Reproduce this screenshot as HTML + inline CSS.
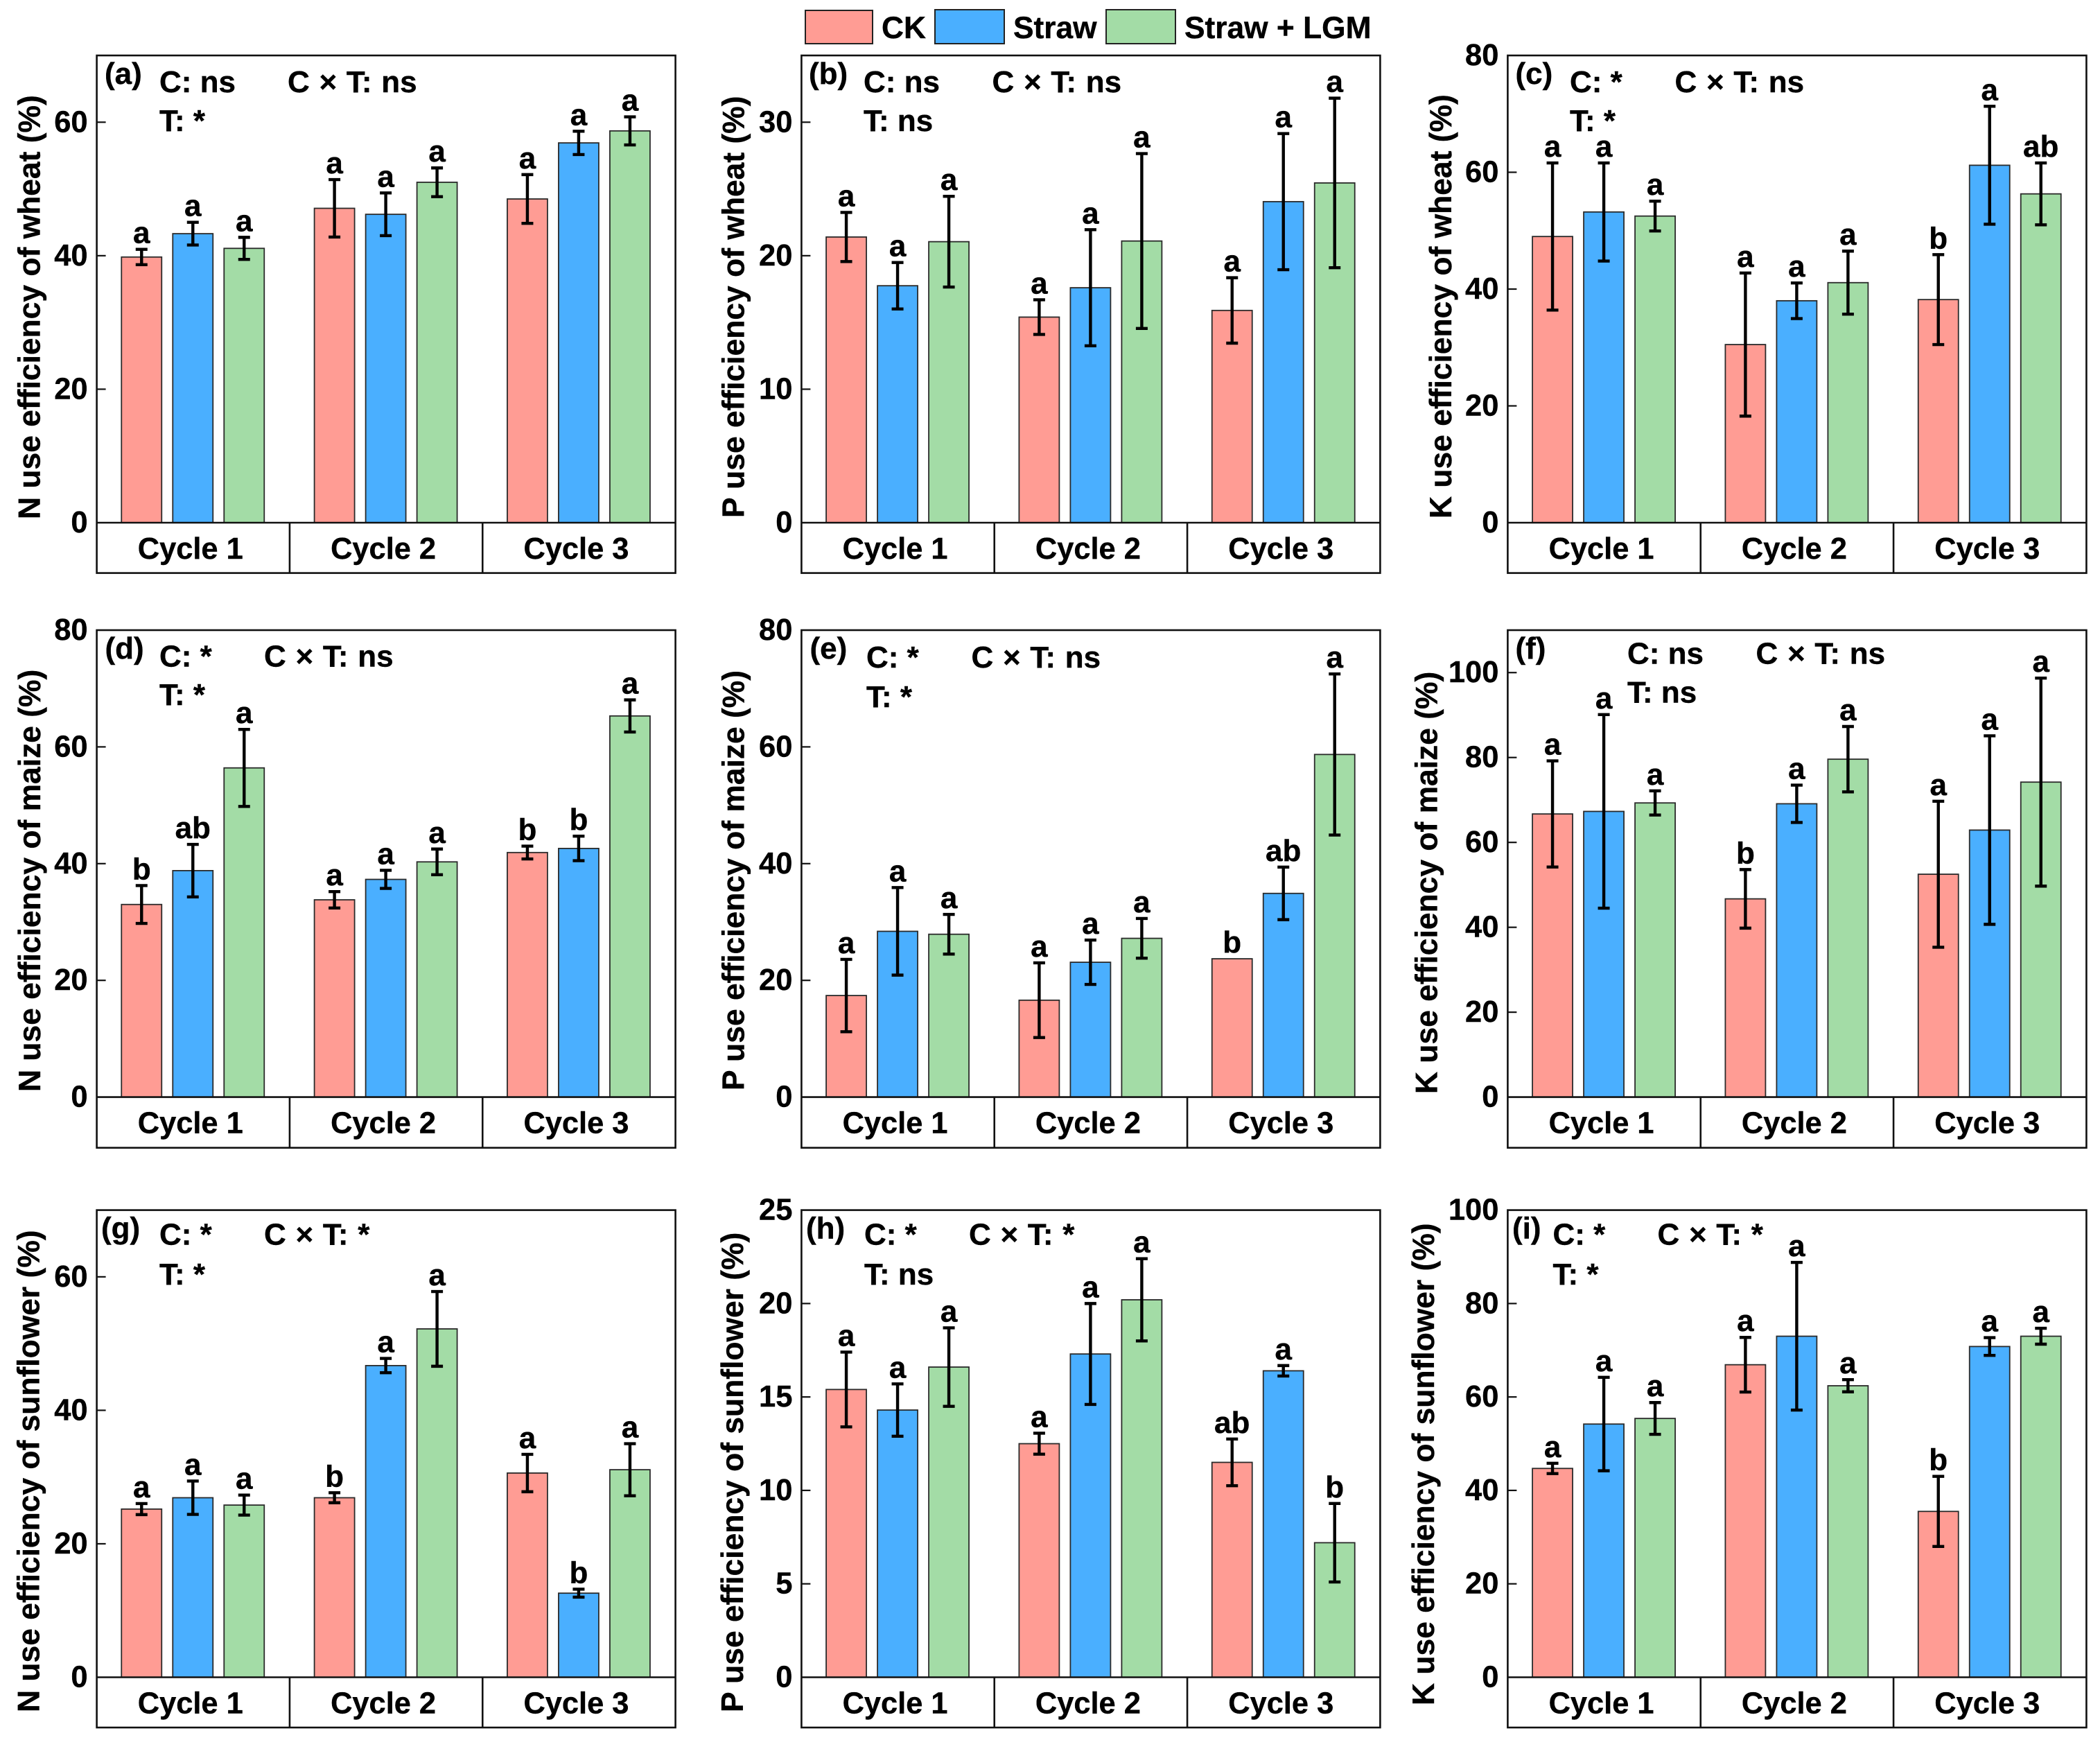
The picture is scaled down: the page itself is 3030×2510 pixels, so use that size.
<!DOCTYPE html>
<html lang="en">
<head>
<meta charset="utf-8">
<title>Nutrient use efficiency by crop, cycle and treatment</title>
<style>
html,body{margin:0;padding:0;background:#fff;}
svg{display:block;}
text{font-family:"Liberation Sans",Arial,sans-serif;font-weight:bold;fill:#000;stroke:#000;stroke-width:0.4px;}
</style>
</head>
<body>
<svg id="chart" xmlns="http://www.w3.org/2000/svg" width="3030" height="2510" viewBox="0 0 3030 2510">
  <rect x="0" y="0" width="3030" height="2510" fill="#ffffff"/>
  <g>
    <rect x="1162" y="15" width="97" height="48" fill="#FF9C94" stroke="#222" stroke-width="2"/>
    <text x="1272" y="55" font-size="44.3">CK</text>
    <rect x="1349" y="14" width="100" height="49" fill="#4AAFFF" stroke="#222" stroke-width="2"/>
    <text x="1462" y="55" font-size="44.3">Straw</text>
    <rect x="1596" y="14" width="100" height="49" fill="#A3DCA6" stroke="#222" stroke-width="2"/>
    <text x="1709" y="55" font-size="44.3">Straw + LGM</text>
  </g>
</svg>
<script>
// ---------- data: values by cycle then treatment (CK, Straw, Straw + LGM) ----------
const cycles = ['Cycle 1', 'Cycle 2', 'Cycle 3'];
const treatments = ['ck', 'straw', 'straw-lgm'];

const aValues = [39.8, 43.3, 41.1, 47.1, 46.2, 51.0, 48.5, 56.9, 58.7];
const aErrors = [1.15, 1.7, 1.65, 4.3, 3.2, 2.15, 3.65, 1.75, 2.1];
const aLetters = ['a','a','a','a','a','a','a','a','a'];
const aTicks = [0, 20, 40, 60];

const bValues = [21.4, 17.75, 21.05, 15.4, 17.6, 21.1, 15.9, 24.05, 25.45];
const bErrors = [1.84, 1.74, 3.4, 1.3, 4.35, 6.55, 2.45, 5.1, 6.35];
const bLetters = ['a','a','a','a','a','a','a','a','a'];
const bTicks = [0, 10, 20, 30];

const cValues = [49.0, 53.2, 52.5, 30.5, 38.0, 41.1, 38.2, 61.2, 56.3];
const cErrors = [12.6, 8.4, 2.55, 12.25, 3.05, 5.4, 7.7, 10.1, 5.3];
const cLetters = ['a','a','a','a','a','a','b','a','ab'];
const cTicks = [0, 20, 40, 60, 80];

const dValues = [33.0, 38.8, 56.4, 33.8, 37.3, 40.3, 41.9, 42.6, 65.3];
const dErrors = [3.24, 4.5, 6.6, 1.4, 1.55, 2.2, 1.1, 2.1, 2.75];
const dLetters = ['b','ab','a','a','a','a','b','b','a'];
const dTicks = [0, 20, 40, 60, 80];

const eValues = [17.4, 28.4, 27.9, 16.6, 23.1, 27.2, 23.7, 34.9, 58.7];
const eErrors = [6.2, 7.5, 3.4, 6.4, 3.8, 3.4, 0, 4.5, 13.8];
const eLetters = ['a','a','a','a','a','a','b','ab','a'];
const eTicks = [0, 20, 40, 60, 80];

const fValues = [66.7, 67.3, 69.3, 46.7, 69.1, 79.6, 52.5, 62.9, 74.2];
const fErrors = [12.5, 22.8, 2.85, 6.9, 4.4, 7.7, 17.2, 22.2, 24.5];
const fLetters = ['a','a','a','b','a','a','a','a','a'];
const fTicks = [0, 20, 40, 60, 80, 100];

const gValues = [25.2, 26.9, 25.8, 26.9, 46.7, 52.2, 30.6, 12.6, 31.1];
const gErrors = [0.83, 2.5, 1.5, 0.75, 1.07, 5.6, 2.8, 0.6, 3.9];
const gLetters = ['a','a','a','b','a','a','a','b','a'];
const gTicks = [0, 20, 40, 60];

const hValues = [15.4, 14.3, 16.6, 12.5, 17.3, 20.2, 11.5, 16.4, 7.2];
const hErrors = [2.0, 1.4, 2.1, 0.56, 2.7, 2.2, 1.25, 0.28, 2.1];
const hLetters = ['a','a','a','a','a','a','ab','a','b'];
const hTicks = [0, 5, 10, 15, 20, 25];

const iValues = [44.7, 54.2, 55.4, 66.9, 73.0, 62.4, 35.5, 70.8, 73.0];
const iErrors = [1.1, 10.0, 3.4, 5.85, 15.8, 1.3, 7.5, 1.9, 1.7];
const iLetters = ['a','a','a','a','a','a','b','a','a'];
const iTicks = [0, 20, 40, 60, 80, 100];

// ---------- layout ----------
const colLeft = [139.6, 1156.4, 2175.4];
const rowTop = [80, 909, 1745.6];
const rowAxis = [754, 1582.6, 2419.5];
const rowBottom = [826.6, 1655.7, 2492];
const plotWidth = 835;
const barWidth = 59;
const barStep = 74;
const titleFontSize = 44.4;
const fills = ['#FF9C94', '#4AAFFF', '#A3DCA6'];

const panels = [
  {id:'a', col:0, row:0, yMax:70,  values:aValues, errors:aErrors, letters:aLetters, ticks:aTicks,
   title:'N use efficiency of wheat (%)', titleX:57.5, titleY:749,
   s1:'C: ns', s2:'C × T: ns', s3:'T: *', labelX:151, s1X:230, s2X:415, y1:133, y2:189},
  {id:'b', col:1, row:0, yMax:35,  values:bValues, errors:bErrors, letters:bLetters, ticks:bTicks,
   title:'P use efficiency of wheat (%)', titleX:1073.6, titleY:747,
   s1:'C: ns', s2:'C × T: ns', s3:'T: ns', labelX:1167, s1X:1246, s2X:1431.5, y1:133, y2:189},
  {id:'c', col:2, row:0, yMax:80,  values:cValues, errors:cErrors, letters:cLetters, ticks:cTicks,
   title:'K use efficiency of wheat (%)', titleX:2094, titleY:748,
   s1:'C: *', s2:'C × T: ns', s3:'T: *', labelX:2186.5, s1X:2265, s2X:2416.5, y1:133, y2:189},
  {id:'d', col:0, row:1, yMax:80,  values:dValues, errors:dErrors, letters:dLetters, ticks:dTicks,
   title:'N use efficiency of maize (%)', titleX:57.8, titleY:1575,
   s1:'C: *', s2:'C × T: ns', s3:'T: *', labelX:151.5, s1X:230, s2X:381, y1:961.6, y2:1017},
  {id:'e', col:1, row:1, yMax:80,  values:eValues, errors:eErrors, letters:eLetters, ticks:eTicks,
   title:'P use efficiency of maize (%)', titleX:1073.6, titleY:1573,
   s1:'C: *', s2:'C × T: ns', s3:'T: *', labelX:1168.5, s1X:1250, s2X:1401.5, y1:963, y2:1020},
  {id:'f', col:2, row:1, yMax:110, values:fValues, errors:fErrors, letters:fLetters, ticks:fTicks,
   title:'K use efficiency of maize (%)', titleX:2073.6, titleY:1578,
   s1:'C: ns', s2:'C × T: ns', s3:'T: ns', labelX:2186.5, s1X:2348, s2X:2533.5, y1:957.4, y2:1013.5},
  {id:'g', col:0, row:2, yMax:70,  values:gValues, errors:gErrors, letters:gLetters, ticks:gTicks,
   title:'N use efficiency of sunflower (%)', titleX:56.5, titleY:2470,
   s1:'C: *', s2:'C × T: *', s3:'T: *', labelX:146, s1X:230, s2X:381, y1:1795.4, y2:1853},
  {id:'h', col:1, row:2, yMax:25,  values:hValues, errors:hErrors, letters:hLetters, ticks:hTicks,
   title:'P use efficiency of sunflower (%)', titleX:1072, titleY:2470,
   s1:'C: *', s2:'C × T: *', s3:'T: ns', labelX:1163, s1X:1247, s2X:1398, y1:1795.4, y2:1853},
  {id:'i', col:2, row:2, yMax:100, values:iValues, errors:iErrors, letters:iLetters, ticks:iTicks,
   title:'K use efficiency of sunflower (%)', titleX:2069, titleY:2460,
   s1:'C: *', s2:'C × T: *', s3:'T: *', labelX:2182, s1X:2240.5, s2X:2391.5, y1:1795.4, y2:1853}
];

const svg = document.getElementById('chart');
const NS = 'http://www.w3.org/2000/svg';

function make(parent, tag, attrs, txt) {
  const el = document.createElementNS(NS, tag);
  for (const k in attrs) el.setAttribute(k, attrs[k]);
  if (txt !== undefined) el.textContent = txt;
  parent.appendChild(el);
  return el;
}

function drawPanel(p) {
  const left = colLeft[p.col];
  const right = left + plotWidth;
  const top = rowTop[p.row];
  const axisY = rowAxis[p.row];
  const bottom = rowBottom[p.row];
  const catW = plotWidth / cycles.length;
  const yScale = v => axisY - (v / p.yMax) * (axisY - top);
  const xScale = (c, t) => left + catW * (c + 0.5) + (t - 1) * barStep;

  const g = make(svg, 'g', {});
  
  

  // bars
  p.values.forEach((v, i) => {
    const c = Math.floor(i / 3);
    const t = i % 3;
    const cx = xScale(c, t) - 0.5;
    const bar = make(g, 'rect', {
      x: cx - barWidth / 2 + 0.5, y: yScale(v),
      width: barWidth - 1, height: axisY - yScale(v),
      fill: fills[t], stroke: '#2a2a2a', 'stroke-width': 1.8
    });
    
    
  });

  // error bars and significance letters
  p.values.forEach((v, i) => {
    const c = Math.floor(i / 3);
    const t = i % 3;
    const cx = xScale(c, t) - 0.5;
    const e = p.errors[i];
    const hi = yScale(v + e);
    const lo = yScale(v - e);
    if (e > 0) {
      const eg = make(g, 'g', {stroke: '#000', fill: 'none'});
      
      
      make(eg, 'line', {x1: cx, x2: cx, y1: hi, y2: lo, 'stroke-width': 4.4});
      make(eg, 'line', {x1: cx - 8.5, x2: cx + 8.5, y1: hi, y2: hi, 'stroke-width': 4.4});
      make(eg, 'line', {x1: cx - 8.5, x2: cx + 8.5, y1: lo, y2: lo, 'stroke-width': 4.4});
    }
    const letter = make(g, 'text', {x: cx, y: hi - 9, 'font-size': 44, 'text-anchor': 'middle'}, p.letters[i]);
    
    
  });

  // frame
  const frame = make(g, 'rect', {x: left, y: top, width: plotWidth, height: bottom - top, fill: 'none', stroke: '#111', 'stroke-width': 2.6});
  
  
  const base = make(g, 'line', {x1: left, x2: right, y1: axisY, y2: axisY, stroke: '#111', 'stroke-width': 2.6});
  
  

  // cycle labels and separators
  cycles.forEach((name, c) => {
    const cx = left + catW * (c + 0.5);
    const label = make(g, 'text', {x: cx - 4, y: axisY + 52, 'font-size': 43.4, 'text-anchor': 'middle'}, name);
    
    
    if (c > 0) {
      const sep = make(g, 'line', {x1: left + catW * c, x2: left + catW * c, y1: axisY, y2: bottom, stroke: '#111', 'stroke-width': 2.6});
      
      
    }
  });

  // y ticks
  p.ticks.forEach(v => {
    const y = yScale(v);
    if (v > 0 && v < p.yMax) {
      const tick = make(g, 'line', {x1: left, x2: left + 13, y1: y, y2: y, stroke: '#111', 'stroke-width': 2.2});
      
      
    }
    const label = make(g, 'text', {x: left - 13, y: y + 14, 'font-size': 43.5, 'text-anchor': 'end'}, String(v));
    
    
  });

  // y title
  const title = make(g, 'text', {x: 0, y: 0, 'font-size': titleFontSize, transform: 'translate(' + p.titleX + ',' + p.titleY + ') rotate(-90)'}, p.title);
  
  

  // panel annotations
  const tag = make(g, 'text', {x: p.labelX, y: top + 41, 'font-size': 44}, '(' + p.id + ')');
  
  
  const s1 = make(g, 'text', {x: p.s1X, y: p.y1, 'font-size': 44}, p.s1);
  
  
  const s2 = make(g, 'text', {x: p.s2X, y: p.y1, 'font-size': 44, 'word-spacing': 1.5}, p.s2);
  
  
  const s3 = make(g, 'text', {x: p.s1X, y: p.y2, 'font-size': 44}, p.s3);
  
  
}

panels.forEach(drawPanel);
</script>
</body>
</html>
